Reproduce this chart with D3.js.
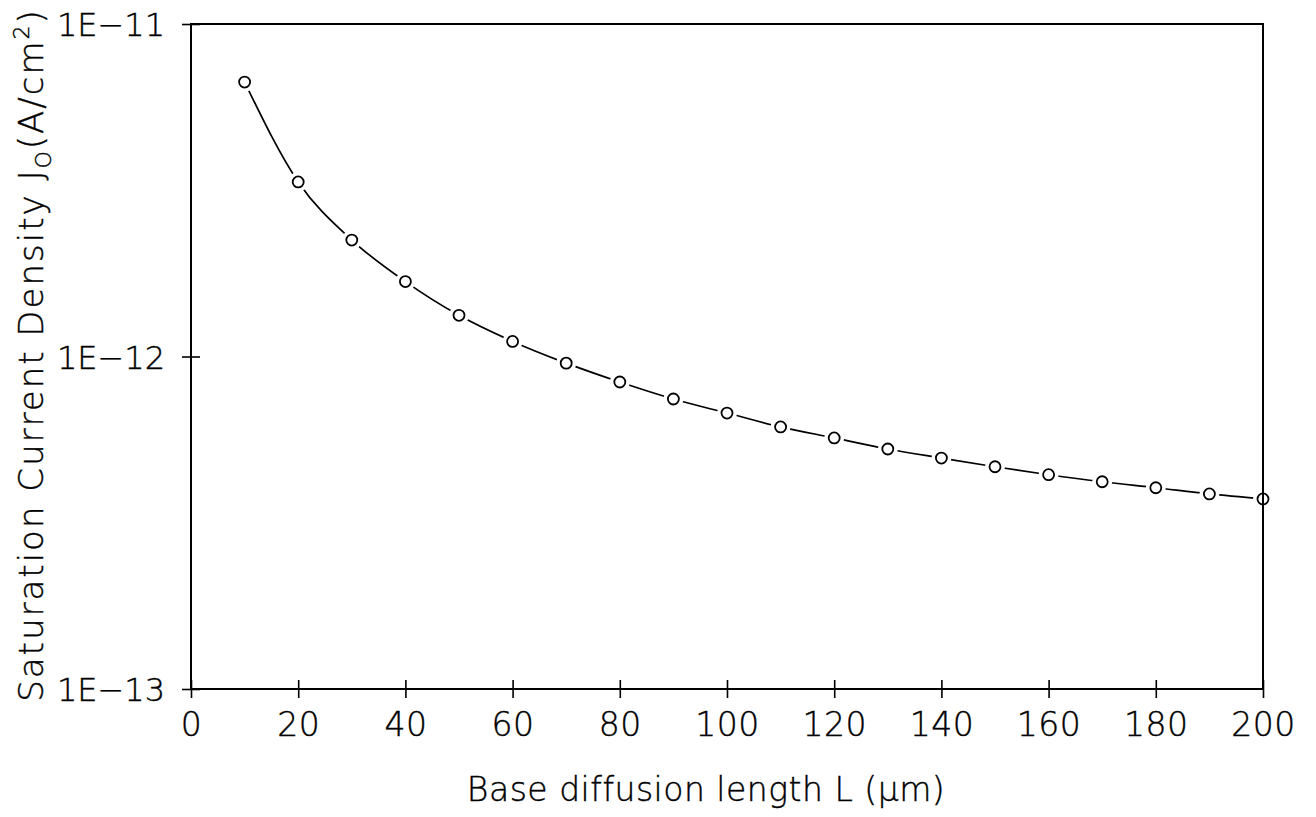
<!DOCTYPE html>
<html>
<head>
<meta charset="utf-8">
<script src="https://cdn.jsdelivr.net/npm/d3@7"></script>
<style>
  html, body { margin: 0; padding: 0; background: #fff; }
  svg text { font-family: "DejaVu Sans", "Liberation Sans", sans-serif; font-weight: 200; fill: #000; stroke: #000; stroke-width: 0.4px; }
</style>
</head>
<body>
<svg id="chart" width="1316" height="817"></svg>
<script>
// Data
const diffusionLength = [10, 20, 30, 40, 50, 60, 70, 80, 90, 100, 110, 120, 130, 140, 150, 160, 170, 180, 190, 200];
const saturationJ0 = [6.69e-12, 3.35e-12, 2.24e-12, 1.68e-12, 1.33e-12, 1.11e-12, 0.955e-12, 0.838e-12, 0.745e-12, 0.676e-12,
                      0.614e-12, 0.569e-12, 0.527e-12, 0.495e-12, 0.466e-12, 0.441e-12, 0.420e-12, 0.403e-12, 0.386e-12, 0.373e-12];
const xTicks = [0, 20, 40, 60, 80, 100, 120, 140, 160, 180, 200];
const yTicks = [1e-13, 1e-12, 1e-11];
const yTickLabels = ["1E\u221213", "1E\u221212", "1E\u221211"];

const svg = d3.select("#chart");
const plotL = 191, plotR = 1263, plotT = 24, plotB = 689;

const x = d3.scaleLinear().domain([0, 200]).range([plotL, plotR]);
const y = d3.scaleLog().domain([1e-13, 1e-11]).range([plotB, plotT]);

const fontFam = "'DejaVu Sans', 'Liberation Sans', sans-serif";

// Frame
svg.append("rect")
  .attr("x", plotL).attr("y", plotT)
  .attr("width", plotR - plotL).attr("height", plotB - plotT)
  .attr("fill", "none").attr("stroke", "#000").attr("stroke-width", 2);

// X axis
const xAxis = svg.append("g")
  .attr("transform", `translate(0,${plotB})`)
  .call(d3.axisBottom(x).tickValues(xTicks).tickSize(9).tickPadding(15).tickFormat(d3.format("d")));
xAxis.select(".domain").remove();
xAxis.selectAll(".tick line").attr("y1", -9).attr("y2", 9).attr("stroke", "#000").attr("stroke-width", 1.6);
xAxis.selectAll(".tick text").attr("font-size", 33).attr("dy", "0.71em")
  .style("font-family", fontFam).style("font-weight", 200).style("letter-spacing", "0.5px");

// Y axis
const yAxis = svg.append("g")
  .attr("transform", `translate(${plotL},0)`)
  .call(d3.axisLeft(y).tickValues(yTicks).tickSize(9).tickPadding(17)
    .tickFormat((d, i) => yTickLabels[i]));
yAxis.select(".domain").remove();
yAxis.selectAll(".tick line").attr("x1", -9).attr("x2", 9).attr("stroke", "#000").attr("stroke-width", 1.6);
yAxis.selectAll(".tick text").attr("font-size", 32).attr("dy", "0.36em")
  .style("font-family", fontFam).style("font-weight", 200);

// Curve
const pts = diffusionLength.map((d, i) => [d, saturationJ0[i]]);
const line = d3.line()
  .x(d => x(d[0]))
  .y(d => y(d[1]))
  .curve(d3.curveMonotoneX);
svg.append("path")
  .datum(pts)
  .attr("d", line)
  .attr("fill", "none")
  .attr("stroke", "#000")
  .attr("stroke-width", 1.7);

// White halos to create gaps around markers
svg.append("g").selectAll("circle")
  .data(pts).join("circle")
  .attr("cx", d => x(d[0])).attr("cy", d => y(d[1]))
  .attr("r", 10).attr("fill", "#fff");

// Redraw the right frame line over halo at x=200
svg.append("line")
  .attr("x1", plotR).attr("x2", plotR).attr("y1", plotT).attr("y2", plotB)
  .attr("stroke", "#000").attr("stroke-width", 2);

// Markers
svg.append("g").selectAll("circle")
  .data(pts).join("circle")
  .attr("cx", d => x(d[0])).attr("cy", d => y(d[1]))
  .attr("r", 5.5).attr("fill", "none").attr("stroke", "#000").attr("stroke-width", 1.8);

// X label
svg.append("text")
  .attr("x", 706).attr("y", 801)
  .attr("text-anchor", "middle")
  .attr("font-size", 33)
  .style("letter-spacing", "0.5px")
  .text("Base diffusion length L (\u03BCm)");

// Y label
const yl = svg.append("text")
  .attr("transform", "translate(43,355) rotate(-90)")
  .attr("text-anchor", "middle")
  .attr("font-size", 34)
  .style("letter-spacing", "2px");
yl.append("tspan").text("Saturation Current Density J");
yl.append("tspan").attr("font-size", 22).attr("dy", 8).text("O");
yl.append("tspan").attr("dy", -8).text("(A/cm");
yl.append("tspan").attr("font-size", 22).attr("dy", -14).text("2");
yl.append("tspan").attr("dy", 14).text(")");
</script>
</body>
</html>
